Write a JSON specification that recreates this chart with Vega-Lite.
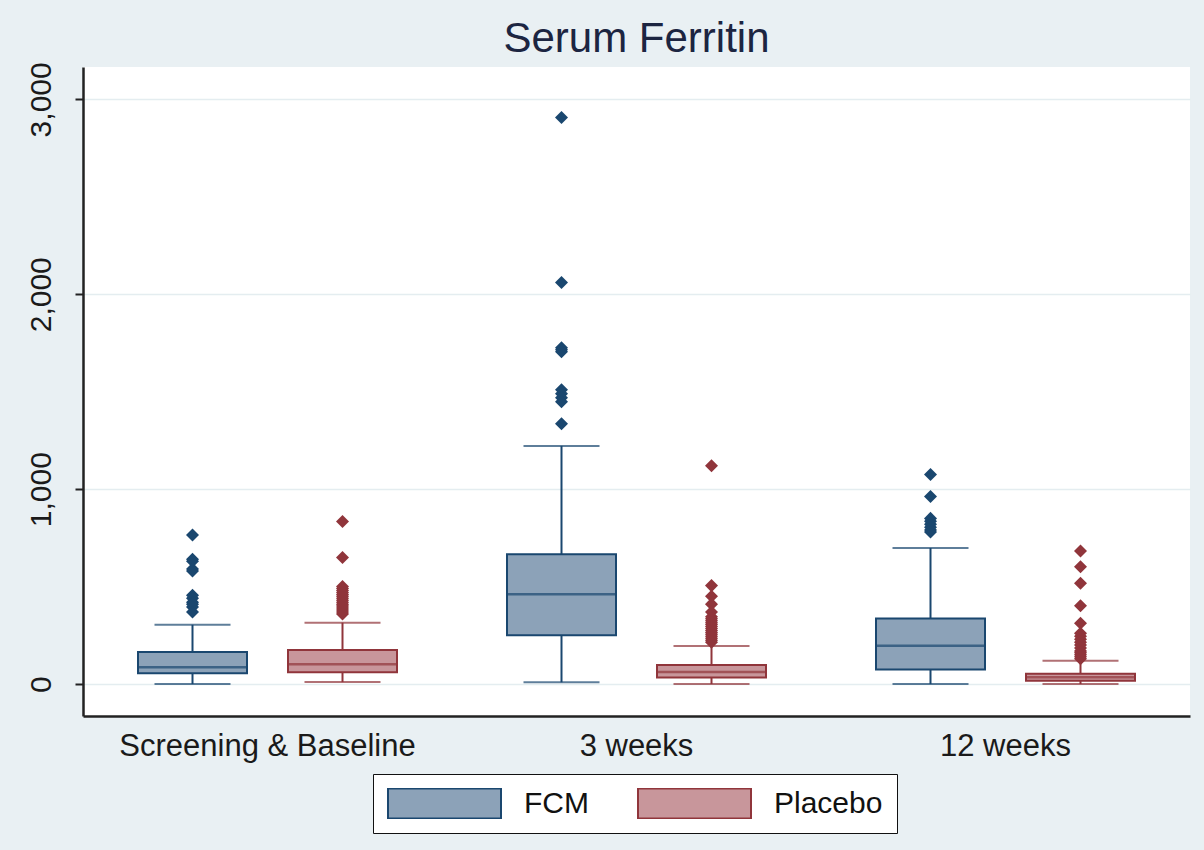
{
  "$schema": "https://vega.github.io/schema/vega-lite/v6.json",
  "width": 1107,
  "height": 649,
  "autosize": {"type": "none"},
  "padding": {"left": 83, "top": 67, "right": 14, "bottom": 134},
  "background": "#e9f0f3",
  "title": {
    "text": "Serum Ferritin",
    "fontSize": 42,
    "font": "Liberation Sans",
    "fontWeight": "normal",
    "color": "#1c2541",
    "anchor": "middle",
    "frame": "group",
    "offset": 1
  },
  "datasets": {
    "boxes": [
      {"visit": "Screening & Baseline", "group": "FCM", "lower": 0, "q1": 55, "median": 86, "q3": 164, "upper": 304},
      {"visit": "Screening & Baseline", "group": "Placebo", "lower": 10, "q1": 60, "median": 101, "q3": 175, "upper": 315},
      {"visit": "3 weeks", "group": "FCM", "lower": 9, "q1": 250, "median": 461, "q3": 666, "upper": 1222},
      {"visit": "3 weeks", "group": "Placebo", "lower": 0, "q1": 33, "median": 62, "q3": 98, "upper": 195},
      {"visit": "12 weeks", "group": "FCM", "lower": 0, "q1": 75, "median": 197, "q3": 336, "upper": 698},
      {"visit": "12 weeks", "group": "Placebo", "lower": 0, "q1": 17, "median": 35, "q3": 53, "upper": 120}
    ],
    "outliers": [
      {"visit": "Screening & Baseline", "group": "FCM", "value": 765},
      {"visit": "Screening & Baseline", "group": "FCM", "value": 640},
      {"visit": "Screening & Baseline", "group": "FCM", "value": 630},
      {"visit": "Screening & Baseline", "group": "FCM", "value": 590},
      {"visit": "Screening & Baseline", "group": "FCM", "value": 580},
      {"visit": "Screening & Baseline", "group": "FCM", "value": 455},
      {"visit": "Screening & Baseline", "group": "FCM", "value": 440},
      {"visit": "Screening & Baseline", "group": "FCM", "value": 420},
      {"visit": "Screening & Baseline", "group": "FCM", "value": 410},
      {"visit": "Screening & Baseline", "group": "FCM", "value": 395},
      {"visit": "Screening & Baseline", "group": "FCM", "value": 370},
      {"visit": "Screening & Baseline", "group": "Placebo", "value": 834},
      {"visit": "Screening & Baseline", "group": "Placebo", "value": 649},
      {"visit": "Screening & Baseline", "group": "Placebo", "value": 500},
      {"visit": "Screening & Baseline", "group": "Placebo", "value": 490},
      {"visit": "Screening & Baseline", "group": "Placebo", "value": 480},
      {"visit": "Screening & Baseline", "group": "Placebo", "value": 470},
      {"visit": "Screening & Baseline", "group": "Placebo", "value": 460},
      {"visit": "Screening & Baseline", "group": "Placebo", "value": 450},
      {"visit": "Screening & Baseline", "group": "Placebo", "value": 440},
      {"visit": "Screening & Baseline", "group": "Placebo", "value": 430},
      {"visit": "Screening & Baseline", "group": "Placebo", "value": 420},
      {"visit": "Screening & Baseline", "group": "Placebo", "value": 410},
      {"visit": "Screening & Baseline", "group": "Placebo", "value": 400},
      {"visit": "Screening & Baseline", "group": "Placebo", "value": 390},
      {"visit": "Screening & Baseline", "group": "Placebo", "value": 380},
      {"visit": "Screening & Baseline", "group": "Placebo", "value": 370},
      {"visit": "Screening & Baseline", "group": "Placebo", "value": 360},
      {"visit": "3 weeks", "group": "FCM", "value": 2907},
      {"visit": "3 weeks", "group": "FCM", "value": 2060},
      {"visit": "3 weeks", "group": "FCM", "value": 1726},
      {"visit": "3 weeks", "group": "FCM", "value": 1715},
      {"visit": "3 weeks", "group": "FCM", "value": 1705},
      {"visit": "3 weeks", "group": "FCM", "value": 1510},
      {"visit": "3 weeks", "group": "FCM", "value": 1490},
      {"visit": "3 weeks", "group": "FCM", "value": 1469},
      {"visit": "3 weeks", "group": "FCM", "value": 1448},
      {"visit": "3 weeks", "group": "FCM", "value": 1335},
      {"visit": "3 weeks", "group": "Placebo", "value": 1120},
      {"visit": "3 weeks", "group": "Placebo", "value": 505},
      {"visit": "3 weeks", "group": "Placebo", "value": 450},
      {"visit": "3 weeks", "group": "Placebo", "value": 410},
      {"visit": "3 weeks", "group": "Placebo", "value": 370},
      {"visit": "3 weeks", "group": "Placebo", "value": 345},
      {"visit": "3 weeks", "group": "Placebo", "value": 335},
      {"visit": "3 weeks", "group": "Placebo", "value": 325},
      {"visit": "3 weeks", "group": "Placebo", "value": 315},
      {"visit": "3 weeks", "group": "Placebo", "value": 305},
      {"visit": "3 weeks", "group": "Placebo", "value": 295},
      {"visit": "3 weeks", "group": "Placebo", "value": 285},
      {"visit": "3 weeks", "group": "Placebo", "value": 275},
      {"visit": "3 weeks", "group": "Placebo", "value": 265},
      {"visit": "3 weeks", "group": "Placebo", "value": 255},
      {"visit": "3 weeks", "group": "Placebo", "value": 245},
      {"visit": "3 weeks", "group": "Placebo", "value": 235},
      {"visit": "3 weeks", "group": "Placebo", "value": 225},
      {"visit": "3 weeks", "group": "Placebo", "value": 215},
      {"visit": "12 weeks", "group": "FCM", "value": 1075},
      {"visit": "12 weeks", "group": "FCM", "value": 962},
      {"visit": "12 weeks", "group": "FCM", "value": 850},
      {"visit": "12 weeks", "group": "FCM", "value": 835},
      {"visit": "12 weeks", "group": "FCM", "value": 820},
      {"visit": "12 weeks", "group": "FCM", "value": 805},
      {"visit": "12 weeks", "group": "FCM", "value": 790},
      {"visit": "12 weeks", "group": "FCM", "value": 780},
      {"visit": "12 weeks", "group": "Placebo", "value": 683},
      {"visit": "12 weeks", "group": "Placebo", "value": 602},
      {"visit": "12 weeks", "group": "Placebo", "value": 517},
      {"visit": "12 weeks", "group": "Placebo", "value": 402},
      {"visit": "12 weeks", "group": "Placebo", "value": 312},
      {"visit": "12 weeks", "group": "Placebo", "value": 260},
      {"visit": "12 weeks", "group": "Placebo", "value": 245},
      {"visit": "12 weeks", "group": "Placebo", "value": 230},
      {"visit": "12 weeks", "group": "Placebo", "value": 215},
      {"visit": "12 weeks", "group": "Placebo", "value": 200},
      {"visit": "12 weeks", "group": "Placebo", "value": 185},
      {"visit": "12 weeks", "group": "Placebo", "value": 170},
      {"visit": "12 weeks", "group": "Placebo", "value": 160},
      {"visit": "12 weeks", "group": "Placebo", "value": 150},
      {"visit": "12 weeks", "group": "Placebo", "value": 140},
      {"visit": "12 weeks", "group": "Placebo", "value": 130}
    ]
  },
  "encoding": {
    "x": {
      "field": "visit",
      "type": "nominal",
      "sort": ["Screening & Baseline", "3 weeks", "12 weeks"],
      "scale": {"paddingInner": 0, "paddingOuter": 0},
      "title": null,
      "axis": {
        "labelAngle": 0,
        "labelFontSize": 31,
        "labelFont": "Liberation Sans",
        "labelColor": "#1a1a1a",
        "labelPadding": 15,
        "labelLimit": 0,
        "ticks": false,
        "domainColor": "#222222",
        "domainWidth": 2.5,
        "grid": false
      }
    },
    "xOffset": {
      "field": "group",
      "type": "nominal",
      "sort": ["FCM", "Placebo"],
      "scale": {"paddingInner": 0, "paddingOuter": 0.23}
    }
  },
  "layer": [
    {
      "data": {"name": "boxes"},
      "mark": {"type": "rule", "strokeWidth": 2},
      "encoding": {
        "y": {
          "field": "lower",
          "type": "quantitative",
          "title": null,
          "scale": {"domain": [-164, 3166], "nice": false, "zero": false},
          "axis": {
            "values": [0, 1000, 2000, 3000],
            "labelExpr": "format(datum.value, ',')",
            "labelAngle": -90,
            "labelFontSize": 30,
            "labelFont": "Liberation Sans",
            "labelColor": "#1a1a1a",
            "labelPadding": 19,
            "tickSize": 8,
            "tickWidth": 2,
            "tickColor": "#222222",
            "domainColor": "#222222",
            "domainWidth": 2.5,
            "grid": true,
            "gridColor": "#e4edf0",
            "gridWidth": 1.5
          }
        },
        "y2": {"field": "upper"},
        "color": {
          "field": "group",
          "type": "nominal",
          "scale": {"range": ["#1a476f", "#90353b"]},
          "legend": null
        }
      }
    },
    {
      "data": {"name": "boxes"},
      "mark": {"type": "bar", "width": 109, "strokeWidth": 2},
      "encoding": {
        "y": {"field": "q1", "type": "quantitative", "title": null},
        "y2": {"field": "q3"},
        "fill": {
          "field": "group",
          "type": "nominal",
          "scale": {"domain": ["FCM", "Placebo"], "range": ["#8ca2b8", "#c8969b"]},
          "legend": {
            "title": null,
            "orient": "none",
            "legendX": 290,
            "legendY": 707,
            "direction": "horizontal",
            "fillColor": "white",
            "strokeColor": "#111111",
            "padding": 14,
            "symbolType": "M-1,-0.265H1V0.265H-1Z",
            "symbolSize": 12769,
            "symbolStrokeWidth": 2,
            "clipHeight": 31,
            "labelFontSize": 30,
            "labelFont": "Liberation Sans",
            "labelColor": "#111111",
            "labelOffset": 22,
            "columnPadding": 48
          }
        },
        "stroke": {
          "field": "group",
          "type": "nominal",
          "scale": {"domain": ["FCM", "Placebo"], "range": ["#1a476f", "#90353b"]},
          "legend": {
            "title": null,
            "orient": "none",
            "legendX": 290,
            "legendY": 707,
            "direction": "horizontal",
            "fillColor": "white",
            "strokeColor": "#111111",
            "padding": 14,
            "symbolType": "M-1,-0.265H1V0.265H-1Z",
            "symbolSize": 12769,
            "symbolStrokeWidth": 2,
            "clipHeight": 31,
            "labelFontSize": 30,
            "labelFont": "Liberation Sans",
            "labelColor": "#111111",
            "labelOffset": 22,
            "columnPadding": 48
          }
        }
      }
    },
    {
      "data": {"name": "boxes"},
      "mark": {"type": "tick", "size": 109, "thickness": 2.5},
      "encoding": {
        "y": {"field": "median", "type": "quantitative", "title": null},
        "color": {"field": "group", "type": "nominal", "legend": null}
      }
    },
    {
      "data": {"name": "boxes"},
      "mark": {"type": "tick", "size": 76, "thickness": 2},
      "encoding": {
        "y": {"field": "lower", "type": "quantitative", "title": null},
        "color": {"field": "group", "type": "nominal", "legend": null}
      }
    },
    {
      "data": {"name": "boxes"},
      "mark": {"type": "tick", "size": 76, "thickness": 2},
      "encoding": {
        "y": {"field": "upper", "type": "quantitative", "title": null},
        "color": {"field": "group", "type": "nominal", "legend": null}
      }
    },
    {
      "data": {"name": "outliers"},
      "mark": {"type": "point", "shape": "diamond", "filled": true, "size": 170, "opacity": 1},
      "encoding": {
        "y": {"field": "value", "type": "quantitative", "title": null},
        "color": {"field": "group", "type": "nominal", "legend": null}
      }
    }
  ],
  "config": {
    "view": {"fill": "white", "stroke": null},
    "font": "Liberation Sans"
  }
}
